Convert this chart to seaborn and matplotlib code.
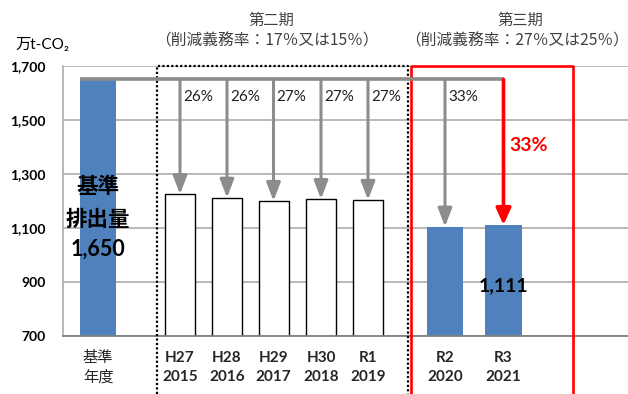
import matplotlib
matplotlib.use("Agg")
import matplotlib.pyplot as plt
import seaborn as sns
import pandas as pd
import numpy as np

# ---------------- data ----------------
categories = ["基準\n年度", "H27\n2015", "H28\n2016", "H29\n2017", "H30\n2018",
              "R1\n2019", "R2\n2020", "R3\n2021"]
periods = ["基準", "第二期", "第二期", "第二期", "第二期", "第二期", "第三期", "第三期"]
emissions = [1650, 1225, 1212, 1200, 1207, 1204, 1105, 1111]
reduction_labels = ["26%", "26%", "27%", "27%", "27%", "33%"]   # H27 .. R2
r3_reduction_label = "33%"
base_label_lines = ["基準", "排出量", "1,650"]
r3_value_label = "1,111"
period_titles = ["第二期", "第三期"]
period_notes = ["（削減義務率：17％又は15％）", "（削減義務率：27％又は25％）"]
unit_label = "万t-CO₂"
yticks = [700, 900, 1100, 1300, 1500, 1700]

# ---------------- layout (pixel-like x units) ----------------
x_centers = [98, 180, 227, 273.5, 321, 368, 445, 503.5]
bar_px = {"基準": 36, "第二期": 30, "第三期": 36.5}
W, H = 628, 394
ax_left, ax_right, ax_bottom, ax_top = 63, 628, 336, 66

BLUE = "#4F81BD"
GRAY = "#8C8C8C"
GRID = "#A6A6A6"
RED = "#FF0000"

sns.set_style("white")
plt.rcParams["font.family"] = ["Lato", "Noto Sans CJK JP", "DejaVu Sans"]

fig = plt.figure(figsize=(W / 100, H / 100), dpi=100)
ax = fig.add_axes([ax_left / W, (H - ax_bottom) / H,
                   (ax_right - ax_left) / W, (ax_bottom - ax_top) / H])

df = pd.DataFrame({"x": x_centers, "value": emissions, "period": periods})

def draw_group(name, color, edge, lw):
    sub = df[df["period"] == name]
    xs = np.unique(sub["x"])
    unit = np.min(np.diff(xs)) if len(xs) > 1 else 1
    sns.barplot(data=sub, x="x", y="value", native_scale=True, orient="x",
                width=bar_px[name] / unit, color=color, saturation=1,
                edgecolor=edge, linewidth=lw, errorbar=None, ax=ax, zorder=2)

draw_group("基準", BLUE, BLUE, 0)
draw_group("第二期", "white", "black", 1.0)
draw_group("第三期", BLUE, BLUE, 0)

scale = (yticks[-1] - yticks[0]) / (ax_bottom - ax_top)  # value per px
fig_bottom_val = yticks[0] - (H - ax_bottom) * scale

ax.set_xlim(ax_left, ax_right)
ax.set_ylim(yticks[0], yticks[-1])
ax.set_xlabel("")
ax.set_ylabel("")

# grid & spines
ax.set_yticks(yticks)
ax.set_yticklabels([f"{v:,}" for v in yticks], fontsize=10, fontweight="bold")
ax.yaxis.grid(True, color=GRID, lw=1.1, zorder=0)
ax.set_axisbelow(True)
for s in ["top", "right"]:
    ax.spines[s].set_visible(False)
ax.spines["left"].set_color(GRID)
ax.spines["left"].set_linewidth(1.1)
ax.spines["bottom"].set_color("#808080")
ax.spines["bottom"].set_linewidth(1.3)
ax.tick_params(axis="y", length=3.6, width=1.1, color=GRID, pad=9, labelcolor="black")

ax.set_xticks(x_centers)
ax.set_xticklabels(categories, fontsize=11, fontweight="bold", linespacing=1.45)
ax.tick_params(axis="x", length=0, pad=11)
ax.get_xticklabels()[0].set_fontweight("normal")

# period boxes
b = fig_bottom_val
ax.plot([157, 157, 408, 408], [b, yticks[-1], yticks[-1], b], color="black",
        ls=(0, (1, 1)), lw=1.6, clip_on=False, zorder=4)
ax.plot([411, 411, 573, 573], [b, yticks[-1], yticks[-1], b], color=RED,
        lw=1.9, clip_on=False, zorder=4)

# reduction arrows
base = emissions[0]
ax.plot([x_centers[0] - bar_px["基準"] / 2, x_centers[-1]], [base, base],
        color=GRAY, lw=2.6, solid_capstyle="butt", zorder=5)
for i in range(1, 7):
    ax.annotate("", xy=(x_centers[i], emissions[i]), xytext=(x_centers[i], base),
                arrowprops=dict(arrowstyle="-|>,head_length=1.1,head_width=0.42",
                                color=GRAY, lw=2.2, shrinkA=0, shrinkB=0,
                                mutation_scale=10), zorder=5)
    ax.text(x_centers[i] + 3, base - 65, reduction_labels[i - 1], ha="left",
            va="center", fontsize=11, color="#202020", zorder=6)
ax.annotate("", xy=(x_centers[-1], emissions[-1]), xytext=(x_centers[-1], base),
            arrowprops=dict(arrowstyle="-|>,head_length=1.0,head_width=0.45",
                            color=RED, lw=2.6, shrinkA=0, shrinkB=0,
                            mutation_scale=10), zorder=5)
ax.text(x_centers[-1] + 6, 1407, r3_reduction_label, ha="left", va="center",
        fontsize=14, fontweight="bold", color=RED, zorder=6)

# value labels
for line, yv in zip(base_label_lines, [1252, 1133, 1022]):
    ax.text(x_centers[0], yv, line, ha="center", va="center", fontsize=15.5,
            fontweight="bold", color="black", zorder=6)
ax.text(x_centers[-1], 885, r3_value_label, ha="center", va="center",
        fontsize=14, fontweight="bold", color="black", zorder=6)

# headers
for title, note, cx_t, cx_n in zip(period_titles, period_notes, [271, 520], [267, 517]):
    fig.text(cx_t / W, 1 - 20 / H, title, ha="center", va="center",
             fontsize=11, color="#404040", family=["Noto Sans CJK JP"])
    fig.text(cx_n / W, 1 - 41 / H, note, ha="center", va="center",
             fontsize=11.3, color="#404040", family=["Noto Sans CJK JP"])
fig.text(15 / W, 1 - 45 / H, unit_label, ha="left", va="center", fontsize=11,
         color="black", family=["Lato", "DejaVu Sans", "Noto Sans CJK JP"])

fig.savefig("out.png", dpi=100)
